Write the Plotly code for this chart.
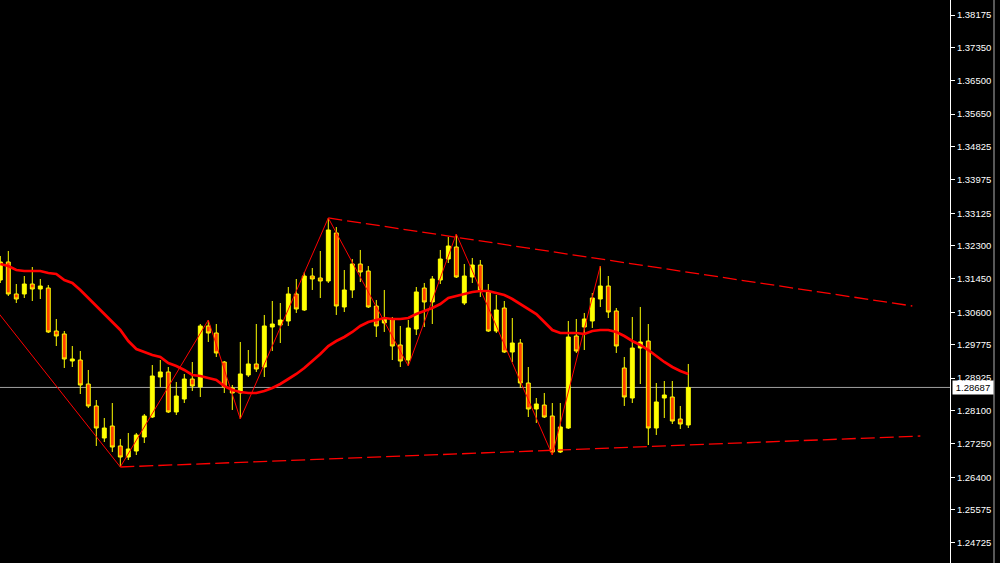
import plotly.graph_objects as go

# ---------------- data ----------------
bar_index = list(range(87))

open_ = [1.31424, 1.31883, 1.31068, 1.31068, 1.31322, 1.31195, 1.31220, 1.30125, 1.30049, 1.29361,
         1.29386, 1.28775, 1.28215, 1.27399, 1.27705, 1.27196, 1.26915, 1.27068, 1.27425, 1.27934,
         1.28953, 1.29081, 1.28062, 1.28393, 1.28902, 1.28699, 1.30253, 1.30074, 1.29335, 1.28673,
         1.28546, 1.29004, 1.29285, 1.29208, 1.30227, 1.30278, 1.30380, 1.31068, 1.30660, 1.31526,
         1.31475, 1.31399, 1.32622, 1.30737, 1.31170, 1.31832, 1.31653, 1.30762, 1.30329, 1.30431,
         1.29769, 1.29386, 1.30176, 1.31220, 1.30864, 1.31424, 1.31959, 1.32265, 1.30838, 1.31501,
         1.31806, 1.31119, 1.30125, 1.30711, 1.29590, 1.29819, 1.28800, 1.28138, 1.28240, 1.27960,
         1.27043, 1.27654, 1.29998, 1.30227, 1.30380, 1.30940, 1.31271, 1.30635, 1.29183, 1.28418,
         1.29692, 1.29870, 1.27654, 1.28418, 1.28444, 1.27883, 1.27731]
high = [1.32036, 1.32163, 1.31322, 1.31526, 1.31755, 1.31450, 1.31297, 1.30431, 1.30125, 1.29743,
        1.29616, 1.29132, 1.28367, 1.27909, 1.28291, 1.27374, 1.27527, 1.27527, 1.28011, 1.29259,
        1.29386, 1.29208, 1.28826, 1.29030, 1.29335, 1.30303, 1.30405, 1.30303, 1.29361, 1.28750,
        1.29845, 1.29641, 1.30303, 1.30533, 1.30889, 1.30838, 1.31246, 1.31450, 1.31628, 1.31730,
        1.32163, 1.33004, 1.32774, 1.31679, 1.31959, 1.32189, 1.31781, 1.30915, 1.31170, 1.30482,
        1.30253, 1.30405, 1.31246, 1.31348, 1.31526, 1.32189, 1.32520, 1.32596, 1.31832, 1.31985,
        1.31934, 1.31322, 1.31042, 1.30889, 1.30456, 1.29921, 1.29208, 1.28418, 1.28546, 1.28291,
        1.28291, 1.30380, 1.30431, 1.30584, 1.31093, 1.31781, 1.31526, 1.30711, 1.29463, 1.30482,
        1.30737, 1.30303, 1.28800, 1.28851, 1.28851, 1.28215, 1.29285]
low = [1.31348, 1.31017, 1.30838, 1.30966, 1.30889, 1.30940, 1.30074, 1.29743, 1.29183, 1.29208,
       1.28520, 1.28164, 1.27196, 1.27298, 1.27043, 1.26661, 1.26839, 1.26966, 1.27272, 1.27909,
       1.28699, 1.28036, 1.27985, 1.28291, 1.28597, 1.28444, 1.29845, 1.29463, 1.28546, 1.28113,
       1.27883, 1.28953, 1.29081, 1.28953, 1.29616, 1.29819, 1.30253, 1.30584, 1.30635, 1.31170,
       1.30966, 1.31348, 1.30533, 1.30609, 1.30966, 1.31373, 1.30711, 1.29972, 1.30100, 1.29386,
       1.29208, 1.29234, 1.30023, 1.30227, 1.30303, 1.31322, 1.31857, 1.31475, 1.30787, 1.31348,
       1.30991, 1.30100, 1.30074, 1.29565, 1.29335, 1.28673, 1.27934, 1.27782, 1.27909, 1.26966,
       1.27017, 1.27629, 1.29565, 1.29641, 1.30202, 1.30737, 1.30456, 1.29565, 1.28215, 1.28291,
       1.28775, 1.27221, 1.27476, 1.27909, 1.27756, 1.27629, 1.27654]
close = [1.31883, 1.31068, 1.30940, 1.31322, 1.31195, 1.31271, 1.30100, 1.29998, 1.29412, 1.29412,
         1.28750, 1.28215, 1.27654, 1.27654, 1.27170, 1.26915, 1.27119, 1.27476, 1.27960, 1.28979,
         1.29081, 1.28062, 1.28469, 1.28902, 1.28724, 1.30253, 1.30074, 1.29565, 1.28699, 1.28546,
         1.29030, 1.29285, 1.29157, 1.30253, 1.30303, 1.30405, 1.31068, 1.30686, 1.31526, 1.31450,
         1.31399, 1.32698, 1.30762, 1.31170, 1.31832, 1.31628, 1.30737, 1.30253, 1.30431, 1.29743,
         1.29361, 1.30202, 1.31119, 1.30864, 1.31450, 1.31959, 1.32290, 1.31501, 1.31526, 1.31806,
         1.31144, 1.30125, 1.30660, 1.29590, 1.29819, 1.28800, 1.28138, 1.28266, 1.27934, 1.27043,
         1.27680, 1.29972, 1.29616, 1.30431, 1.30966, 1.31271, 1.30609, 1.29743, 1.28444, 1.29692,
         1.29845, 1.27654, 1.28317, 1.28495, 1.27832, 1.27756, 1.28687]

moving_average = [1.31832, 1.31781, 1.31679, 1.31653, 1.31653, 1.31653, 1.31603, 1.31577, 1.31424, 1.31348,
                  1.31170, 1.30966, 1.30737, 1.30533, 1.30329, 1.30151, 1.29870, 1.29667, 1.29590, 1.29514,
                  1.29463, 1.29310, 1.29234, 1.29132, 1.29004, 1.28979, 1.28928, 1.28877, 1.28724, 1.28622,
                  1.28571, 1.28546, 1.28546, 1.28597, 1.28673, 1.28775, 1.28902, 1.29030, 1.29183, 1.29361,
                  1.29539, 1.29743, 1.29870, 1.29972, 1.30100, 1.30253, 1.30354, 1.30405, 1.30456, 1.30431,
                  1.30431, 1.30456, 1.30558, 1.30635, 1.30711, 1.30813, 1.30966, 1.31017, 1.31068, 1.31119,
                  1.31144, 1.31144, 1.31093, 1.31042, 1.30940, 1.30813, 1.30686, 1.30558, 1.30354, 1.30151,
                  1.30074, 1.30074, 1.30074, 1.30049, 1.30125, 1.30151, 1.30151, 1.30100, 1.29998, 1.29870,
                  1.29769, 1.29641, 1.29488, 1.29335, 1.29208, 1.29106, 1.29030]

zigzag_index = [-3, 15, 26, 30, 41, 51, 57, 69, 75]
zigzag_price = [1.31297, 1.26661, 1.30405, 1.27883, 1.33004, 1.29234, 1.32596, 1.26966, 1.31781]

upper_trend_index = [41, 114]
upper_trend_price = [1.33004, 1.30762]
lower_trend_index = [15, 115]
lower_trend_price = [1.26661, 1.27450]

current_price = 1.28687
tick_values = [1.38175, 1.37350, 1.36500, 1.35650, 1.34825, 1.33975, 1.33125, 1.32300, 1.31450,
               1.30600, 1.29775, 1.28925, 1.28100, 1.27250, 1.26400, 1.25575, 1.24725]
tick_labels = ["%.5f" % v for v in tick_values]

# ---------------- figure ----------------
YELLOW = "#FFFF00"
BEAR = "#FF4000"
RED = "#FF0000"
FONT = "Liberation Sans, Arial, sans-serif"

fig = go.Figure()

fig.add_trace(go.Candlestick(
    x=bar_index, open=open_, high=high, low=low, close=close,
    increasing=dict(line=dict(color=YELLOW, width=1), fillcolor=YELLOW),
    decreasing=dict(line=dict(color=YELLOW, width=1), fillcolor=BEAR),
    whiskerwidth=0, showlegend=False, hoverinfo="skip",
))

fig.add_trace(go.Scatter(
    x=zigzag_index, y=zigzag_price, mode="lines",
    line=dict(color=RED, width=1), showlegend=False, hoverinfo="skip",
))

fig.add_trace(go.Scatter(
    x=upper_trend_index, y=upper_trend_price, mode="lines",
    line=dict(color=RED, width=1.3, dash="14px,5px"), showlegend=False, hoverinfo="skip",
))
fig.add_trace(go.Scatter(
    x=lower_trend_index, y=lower_trend_price, mode="lines",
    line=dict(color=RED, width=1.3, dash="14px,5px"), showlegend=False, hoverinfo="skip",
))

fig.add_trace(go.Scatter(
    x=bar_index, y=moving_average, mode="lines",
    line=dict(color=RED, width=2.7), showlegend=False, hoverinfo="skip",
))

# current price line
fig.add_shape(type="line", xref="paper", x0=0, x1=1, yref="y", y0=current_price, y1=current_price,
              line=dict(color="#A0A0A0", width=1), layer="below")
# right window border
fig.add_shape(type="line", xref="paper", x0=994 / 950, x1=994 / 950, yref="paper", y0=0, y1=1,
              line=dict(color="#B0B0B0", width=1), layer="above")

fig.add_annotation(
    xref="paper", x=1, xanchor="left", xshift=2,
    yref="y", y=current_price, yanchor="middle",
    text="%.5f" % current_price, showarrow=False,
    bgcolor="#FFFFFF", borderpad=1, width=38,
    font=dict(color="#000000", size=9.5, family=FONT),
)

fig.update_layout(
    width=1000, height=563,
    paper_bgcolor="#000000", plot_bgcolor="#000000",
    margin=dict(l=0, r=50, t=0, b=0, pad=0, autoexpand=False),
    showlegend=False,
    xaxis=dict(range=[-0.0375, 118.71], visible=False, showgrid=False, zeroline=False,
               rangeslider=dict(visible=False)),
    yaxis=dict(range=[1.24215, 1.38557], side="right", tickvals=tick_values, ticktext=tick_labels,
               ticks="outside", ticklen=4, tickcolor="#FFFFFF", showline=True, linecolor="#FFFFFF",
               linewidth=1, showgrid=False, zeroline=False,
               tickfont=dict(color="#FFFFFF", size=9.5, family=FONT)),
)

fig.write_html(
    "out.html",
    config={"displayModeBar": False},
    post_script="document.body.style.margin='0';document.body.style.padding='0';"
                "document.body.style.background='#000000';",
)
